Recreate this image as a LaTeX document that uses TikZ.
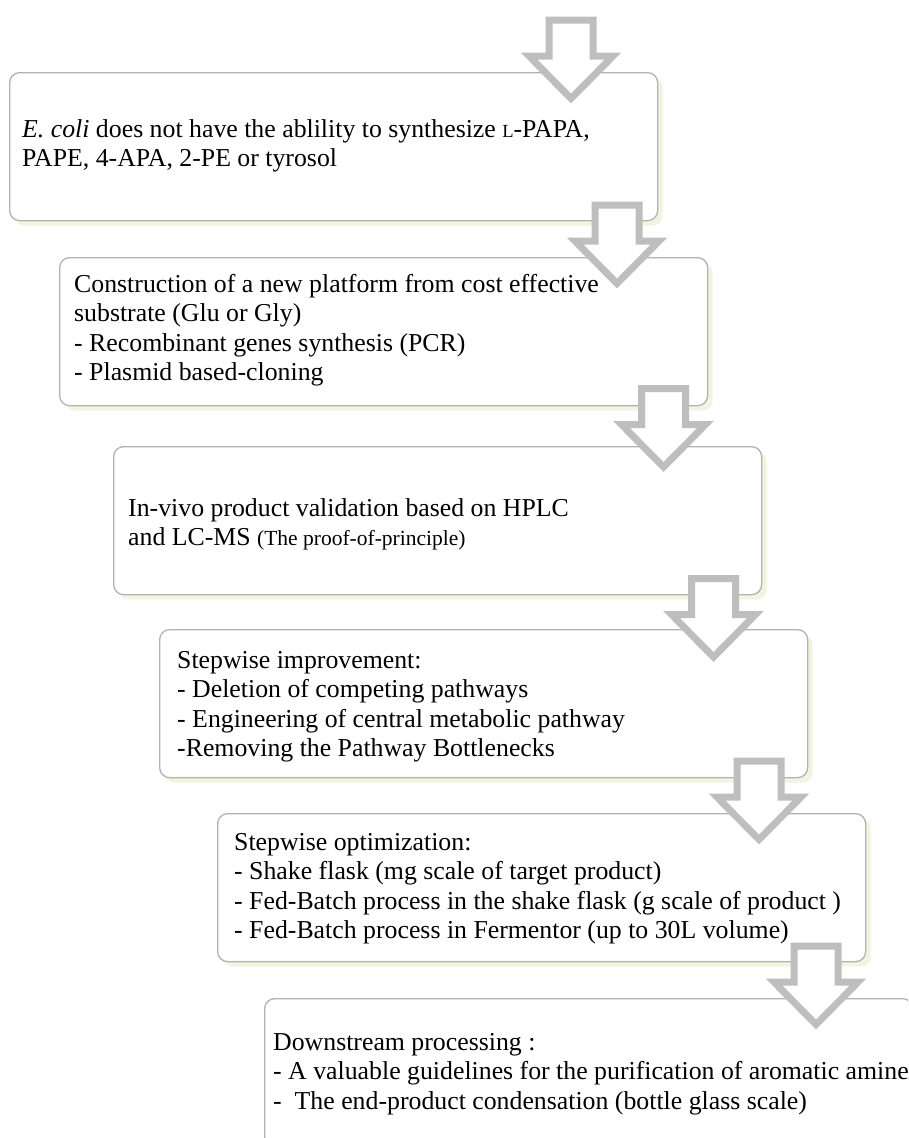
\documentclass[tikz,border=0pt]{standalone}
\usepackage{fontspec}
\setmainfont{Liberation Serif}
\usetikzlibrary{shadows}
\definecolor{boxline}{RGB}{178,178,178}
\definecolor{boxshadow}{RGB}{243,243,226}
\definecolor{arrgray}{RGB}{190,190,190}
\begin{document}
\begin{tikzpicture}[x=1pt,y=-1pt,
  stepbox/.style={draw=boxline, line width=1.3pt, rounded corners=10pt, fill=white,
    inner sep=0pt, minimum width=648pt, minimum height=148pt, anchor=north west,
    general shadow={fill=boxshadow, shadow xshift=5pt, shadow yshift=-5pt}},
  txt/.style={font=\fontsize{25.8}{29.6}\selectfont, align=left, inner sep=0pt, anchor=base west},
  blockarrow/.pic={\draw[draw=arrgray, fill=white, line width=7pt, miter limit=10]
    (-22,0) -- (22,0) -- (22,36) -- (42,36) -- (0,78.5) -- (-42,36) -- (-22,36) -- cycle;}
]
\clip (0,0) rectangle (908,1138);
\fill[white] (0,0) rectangle (908,1138);
% boxes
\node[stepbox] (b1) at (9,72) {};
\node[stepbox] (b2) at (59,257) {};
\node[stepbox] (b3) at (113,446) {};
\node[stepbox] (b4) at (159,629) {};
\node[stepbox] (b5) at (217,813) {};
\node[stepbox] (b6) at (264,998) {};
% texts (anchor = baseline of the last line)
\node[txt] (t1) at (22,166.6) {\textit{E. coli} does not have the ablility to synthesize {\fontsize{18.5}{20}\selectfont L}-PAPA,\\PAPE, 4-APA, 2-PE or tyrosol};
\node[txt] (t2) at (74,380.8) {Construction of a new platform from cost effective\\substrate (Glu or Gly)\\- Recombinant genes synthesis (PCR)\\- Plasmid based-cloning};
\node[txt] (t3) at (128,545.6) {In-vivo product validation based on HPLC\\and LC-MS {\fontsize{21.5}{29.6}\selectfont(The proof-of-principle)}};
\node[txt] (t4) at (177,756.8) {Stepwise improvement:\\- Deletion of competing pathways\\- Engineering of central metabolic pathway\\-Removing the Pathway Bottlenecks};
\node[txt] (t5) at (234,938.8) {Stepwise optimization:\\- Shake flask (mg scale of target product)\\- Fed-Batch process in the shake flask (g scale of product )\\- Fed-Batch process in Fermentor (up to 30L volume)};
\node[txt] (t6) at (273,1109.2) {Downstream processing :\\- A valuable guidelines for the purification of aromatic amine\\-\ \ The end-product condensation (bottle glass scale)};
% block arrows
\pic at (571,20) {blockarrow};
\pic at (617,205) {blockarrow};
\pic at (663.5,388.5) {blockarrow};
\pic at (713.5,578.5) {blockarrow};
\pic at (759,761) {blockarrow};
\pic at (816,946) {blockarrow};
\end{tikzpicture}
\end{document}
